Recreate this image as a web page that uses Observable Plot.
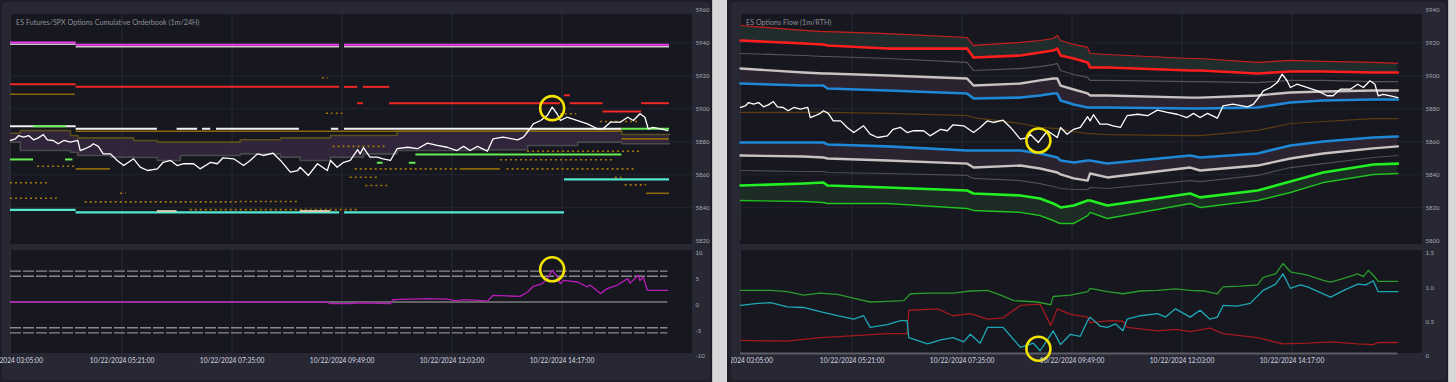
<!DOCTYPE html>
<html><head><meta charset="utf-8">
<script src="https://cdn.jsdelivr.net/npm/d3@7"></script>
<script src="https://cdn.jsdelivr.net/npm/@observablehq/plot@0.6"></script>
<style>
html,body{margin:0;padding:0;background:#1d1e27;width:1456px;height:382px;overflow:hidden;font-family:Lato,"Open Sans",sans-serif;}
.abs{position:absolute;}
</style></head><body>
<div id="root" style="position:relative;width:1456px;height:382px;"></div>
<script>
// ---------- shared time axis (minutes after 03:05) ----------
const timeTicks = [0, 136, 270, 404, 538, 672];
const timeTickLabels = ["10/22/2024 03:05:00","10/22/2024 05:21:00","10/22/2024 07:35:00","10/22/2024 09:49:00","10/22/2024 12:03:00","10/22/2024 14:17:00"];
const leftTopTicks = [5820,5840,5860,5880,5900,5920,5940,5960];
const rightTopTicks = [5800,5820,5840,5860,5880,5900,5920,5940];
const leftLowTicks = [-10,-5,0,5,10];
const rightLowTicks = [0,0.5,1,1.5];
const rightLowTickLabels = ["0","0.5","1.0","1.5"];
const leftTitle = "ES Futures/SPX Options Cumulative Orderbook (1m/24H)";
const rightTitle = "ES Options Flow (1m/RTH)";

// ---------- ES price [minute, price] ----------
const esPrice = [[0,5880.8],[6,5881.8],[10,5883.8],[16,5882.8],[22,5883.8],[28,5881.2],[34,5882.4],[40,5884.4],[45,5881.2],[52,5880.8],[58,5878.8],[65,5880.8],[73,5879.8],[82,5880.8],[85,5874.7],[91,5875.8],[97,5877.2],[101,5878.8],[107,5877.2],[113,5872.7],[122,5872.7],[130,5868.7],[138,5865.6],[150,5869.7],[158,5864.6],[167,5862.6],[179,5863.6],[186,5867.6],[195,5868.7],[203,5865.6],[211,5866.7],[223,5866.7],[231,5863.6],[244,5867.6],[252,5866.7],[259,5870.3],[272,5869.7],[284,5865.6],[292,5868.7],[301,5872.7],[308,5871.7],[320,5873.1],[329,5868.7],[341,5861.6],[350,5862.6],[353,5864.6],[363,5859.6],[374,5866.7],[386,5862.6],[390,5868.7],[398,5864.6],[406,5867.6],[414,5868.7],[423,5875.2],[426,5872.7],[430,5876.4],[438,5870.7],[447,5870.7],[454,5869.7],[463,5868.7],[471,5875.8],[484,5876.7],[496,5875.8],[508,5879.2],[520,5877.8],[532,5876.7],[544,5874.7],[552,5877.2],[560,5874.7],[569,5877.2],[581,5874.3],[588,5881.8],[600,5882.8],[618,5881.2],[625,5882.8],[633,5887.9],[637,5890.9],[646,5892.9],[654,5895.9],[660,5901.0],[666,5897.0],[670,5892.9],[678,5894.9],[691,5892.9],[703,5890.9],[715,5887.9],[722,5887.9],[731,5891.9],[743,5891.9],[752,5894.9],[759,5892.9],[767,5897.0],[773,5894.9],[777,5887.9],[783,5888.8],[792,5887.9],[801,5886.8]];

// ---------- left orderbook levels [startMin, endMin, price] ----------
const lvlMagenta = [[0,80,5940.2],[80,401,5938.8],[407,803,5938.8]];
const lvlSilver = [[0,80,5939.1],[80,401,5937.6],[407,803,5937.6]];
const lvlRed = [[0,80,5914.9],[80,401,5913.3],[407,423,5913.3],[430,462,5913.3],[423,430,5903.4],[462,670,5903.4],[682,722,5903.4],[769,803,5903.4],[675,682,5908.2],[722,769,5898.4]];
const lvlWhite = [[0,80,5889.5],[80,179,5887.9],[203,228,5887.9],[234,244,5887.9],[251,352,5887.9],[391,400,5887.9],[407,745,5887.9]];
const lvlGreen = [[28,68,5889.5],[745,803,5887.9],[0,28,5869.3],[67,76,5869.3],[447,454,5867.3],[486,494,5867.3],[494,745,5872.3]];
const lvlCyan = [[0,80,5838.8],[80,401,5837.2],[407,675,5837.2],[675,803,5857.2]];
const lvlBeige = [[179,203,5838.0],[353,390,5838.0]];
const lvlGold = [[0,79,5908.8],[80,745,5886.4],[80,122,5863.6],[548,597,5863.6],[745,803,5881.8],[775,803,5848.8]];
const lvlGoldDotted = [[33,79,5865.2],[0,45,5855.2],[0,57,5845.8],[91,280,5843.6],[280,350,5843.8],[219,423,5838.9],[393,460,5877.2],[420,548,5863.6],[414,450,5858.5],[433,462,5853.5],[670,690,5897.0],[719,767,5892.3],[630,768,5874.3],[597,735,5869.1],[605,760,5863.6],[737,745,5858.5],[749,775,5853.9],[134,141,5848.8],[385,393,5897.3],[397,405,5897.3],[380,387,5918.8]];

// ---------- left cone band ----------
const coneTimes = [0,12,73,82,122,150,179,207,280,329,353,390,430,471,560,630,691,745,803];
const coneUpper = [5885.2,5886.8,5883.8,5882.4,5882.4,5880.8,5879.8,5879.8,5881.2,5882.4,5882.4,5883.8,5883.8,5886.4,5886.4,5887.5,5887.5,5884.4,5884.4];
const coneLower = [5879.8,5874.7,5873.7,5871.7,5870.7,5870.5,5868.7,5871.7,5872.7,5870.7,5868.7,5870.7,5872.7,5874.7,5875.2,5877.8,5879.8,5878.8,5878.8];

// ---------- left lower oscillator ----------
const leftOsc = [[0,0],[384,0],[390,-0.3],[414,-0.3],[426,-0.15],[463,-0.3],[466,0.47],[508,0.66],[532,0.56],[544,0.2],[552,0.47],[569,0.33],[581,0.15],[588,1.3],[605,1.17],[621,1.1],[630,1.94],[637,3.05],[648,3.57],[654,4.54],[660,6.16],[666,4.99],[670,3.57],[674,4.21],[691,3.88],[703,2.91],[706,3.28],[719,1.63],[727,2.6],[739,3.24],[752,4.54],[755,3.67],[765,5.18],[767,4.17],[771,4.85],[776,2.27],[801,2.27]];
const leftOscBands = [6,5,-5,-6];

// ---------- right options flow bands ----------
const rbTimes = [0,77,101,106,179,276,284,341,365,381,386,390,406,423,426,447,548,560,630,670,710,771,801];
const rbRedThin = [5930.5,5927.5,5926.8,5926.8,5925.6,5923.2,5918.4,5920.2,5921.4,5922.6,5924.4,5921.4,5919.0,5917.2,5913.5,5912.9,5910.5,5910.5,5908.1,5909.3,5908.7,5908.1,5907.5];
const rbRedThick = [5921.4,5919.6,5919.0,5918.4,5916.5,5916.5,5911.1,5912.3,5914.1,5915.3,5916.5,5912.3,5910.5,5908.1,5905.0,5905.0,5903.2,5903.2,5901.4,5902.6,5902.6,5902.0,5902.0];
const rbGrayThin = [5913.5,5912.3,5911.7,5911.7,5910.5,5908.1,5903.2,5904.4,5905.6,5906.8,5907.5,5903.2,5900.8,5899.0,5897.2,5897.2,5896.5,5896.5,5895.9,5897.2,5897.2,5896.5,5896.5];
const rbGrayThick = [5904.4,5902.0,5901.4,5901.4,5900.2,5898.4,5894.1,5895.3,5897.2,5898.4,5898.4,5894.1,5891.7,5889.3,5888.1,5888.1,5886.8,5886.8,5888.1,5889.9,5890.5,5891.1,5891.1];
const rbBlueUp = [5895.3,5894.1,5894.1,5892.3,5891.1,5889.3,5886.2,5886.8,5888.1,5889.3,5889.3,5885.0,5882.6,5880.8,5880.8,5880.8,5880.2,5880.2,5880.8,5883.8,5885.0,5885.6,5885.6];
const rbBrown = [5877.8,5877.8,5877.8,5877.8,5877.2,5875.9,5874.7,5871.1,5868.7,5868.1,5868.1,5867.5,5866.2,5865.0,5865.0,5864.4,5863.8,5863.8,5866.9,5871.1,5872.3,5874.1,5874.1];
const rbBlueLo = [5859.6,5859.6,5859.6,5858.4,5857.2,5854.7,5854.7,5854.7,5852.9,5851.1,5850.5,5848.7,5847.5,5848.7,5848.7,5846.8,5851.7,5850.5,5852.9,5857.8,5860.2,5862.6,5863.2];
const rbGrayLo = [5851.7,5851.1,5850.5,5849.9,5848.7,5846.8,5844.4,5845.6,5843.8,5842.0,5841.4,5840.2,5837.8,5836.5,5840.8,5838.4,5844.4,5842.6,5845.6,5849.9,5852.9,5856.0,5857.2];
const rbDarkGrayLo = [5842.6,5842.0,5842.0,5841.4,5840.8,5839.6,5837.8,5836.5,5834.7,5832.9,5832.3,5831.7,5831.1,5831.1,5832.3,5831.7,5836.5,5835.9,5839.6,5844.4,5846.8,5850.5,5851.7];
const rbGreenThick = [5833.5,5834.7,5835.3,5833.5,5832.3,5830.5,5828.7,5827.5,5825.6,5822.6,5821.4,5820.2,5821.4,5824.4,5824.4,5821.4,5828.7,5826.3,5830.5,5835.9,5841.4,5846.2,5846.8];
const rbGreenThin = [5824.4,5823.8,5823.2,5822.6,5822.6,5819.6,5818.4,5817.2,5815.3,5812.3,5811.1,5810.5,5810.5,5815.3,5817.2,5813.5,5822.6,5820.2,5824.4,5829.3,5835.3,5840.2,5840.8];

// ---------- right lower ratios ----------
const ratioGreen = [[0,0.92],[37,0.92],[57,0.9],[77,0.85],[97,0.88],[118,0.86],[140,0.8],[158,0.75],[179,0.76],[199,0.77],[207,0.87],[231,0.88],[259,0.88],[280,0.91],[301,0.92],[317,0.85],[333,0.77],[362,0.75],[378,0.71],[381,0.83],[402,0.85],[423,0.9],[426,0.95],[447,0.9],[466,0.87],[487,0.91],[508,0.92],[530,0.94],[548,0.92],[566,0.91],[581,0.87],[588,0.97],[609,0.98],[630,1.0],[637,1.11],[652,1.16],[661,1.31],[670,1.19],[691,1.14],[711,1.06],[719,1.04],[734,1.09],[752,1.16],[759,1.12],[765,1.21],[771,1.14],[777,1.05],[801,1.05]];
const ratioCyan = [[0,0.70],[21,0.73],[37,0.74],[57,0.68],[77,0.67],[97,0.61],[118,0.55],[138,0.5],[150,0.55],[158,0.38],[179,0.42],[195,0.48],[203,0.48],[205,0.23],[228,0.14],[244,0.2],[259,0.23],[272,0.17],[280,0.28],[292,0.15],[301,0.38],[320,0.38],[341,0.09],[357,0.15],[365,0.04],[374,0.2],[381,0.33],[390,0.13],[402,0.28],[414,0.25],[423,0.48],[426,0.53],[438,0.4],[447,0.38],[457,0.43],[466,0.33],[471,0.5],[487,0.55],[508,0.58],[518,0.53],[530,0.65],[548,0.53],[560,0.63],[572,0.5],[581,0.53],[588,0.7],[605,0.69],[621,0.73],[637,0.92],[652,1.01],[661,1.16],[670,0.95],[682,1.0],[691,0.97],[719,0.82],[737,0.93],[752,1.01],[762,1.0],[771,1.06],[777,0.9],[801,0.9]];
const ratioRed = [[0,0.19],[57,0.18],[97,0.23],[140,0.26],[179,0.29],[203,0.29],[205,0.63],[240,0.65],[259,0.55],[280,0.58],[301,0.5],[320,0.52],[341,0.7],[365,0.72],[378,0.41],[386,0.65],[402,0.57],[423,0.53],[426,0.45],[451,0.48],[466,0.47],[471,0.38],[508,0.33],[530,0.35],[548,0.32],[572,0.37],[588,0.29],[630,0.23],[661,0.14],[691,0.15],[719,0.17],[752,0.14],[771,0.13],[777,0.16],[801,0.16]];

// ---------- yellow highlights [minute, value] ----------
const hlLeftTop = [[660,5900.4]];
const hlLeftLow = [[660,6.35]];
const hlRightTop = [[363,5860.8]];
const hlRightLow = [[363,0.07]];

// ================= rendering =================
const FONT = "Lato, 'Open Sans', sans-serif";
const X_DOMAIN = [0, 831];
const PW = 682;
const root = document.getElementById("root");

function div(parent, x, y, w, h, css) {
  const d = document.createElement("div");
  d.className = "abs";
  d.style.cssText = `left:${x}px;top:${y}px;width:${w}px;height:${h}px;` + (css || "");
  parent.appendChild(d);
  return d;
}
function place(parent, node, x, y) {
  node.style.position = "absolute";
  node.style.left = x + "px";
  node.style.top = y + "px";
  parent.appendChild(node);
}
const seg = (arr, o) => Plot.ruleY(arr, {y: d => d[2], x1: d => d[0], x2: d => d[1], ...o});
const ln = (arr, o) => Plot.line(arr, {x: d => d[0], y: d => d[1], ...o});
const hl = (arr) => Plot.dot(arr, {x: d => d[0], y: d => d[1], r: 12, stroke: "#f4e400", strokeWidth: 2.6, fill: "none"});
const grid = (ticks) => [
  Plot.gridX(timeTicks, {stroke: "#2a2b36", strokeOpacity: 1, strokeWidth: 1}),
  Plot.gridY(ticks, {stroke: "#24252f", strokeOpacity: 1, strokeWidth: 1})
];

function topPlot(yDomain, ticks, gridTicks, marks) {
  return Plot.plot({
    width: PW + 30, height: 244,
    marginLeft: 0, marginRight: 30, marginTop: 9.3, marginBottom: 3.7,
    x: {domain: X_DOMAIN, axis: null},
    y: {domain: yDomain, axis: null},
    style: {background: "transparent", overflow: "visible", fontFamily: FONT},
    marks: [
      ...grid(gridTicks),
      ...marks,
      Plot.axisY(ticks, {anchor: "right", tickSize: 0, tickPadding: 3, fill: "#a8a8b2", fontSize: 6, tickFormat: d => String(d)})
    ]
  });
}
function lowPlot(yDomain, ticks, fmt, marks) {
  return Plot.plot({
    width: PW + 30, height: 126,
    marginLeft: 0, marginRight: 30, marginTop: 0, marginBottom: 23,
    x: {domain: X_DOMAIN, axis: null},
    y: {domain: yDomain, axis: null},
    style: {background: "transparent", overflow: "visible", fontFamily: FONT},
    marks: [
      Plot.gridX(timeTicks, {stroke: "#2a2b36", strokeOpacity: 1}),
      ...marks,
      Plot.axisY(ticks, {anchor: "right", tickSize: 0, tickPadding: 3, dy: 3, fill: "#a8a8b2", fontSize: 6, tickFormat: fmt}),
      Plot.axisX(timeTicks, {anchor: "bottom", tickSize: 0, tickPadding: 5, fill: "#d8d8e0", fontSize: 6.6,
        tickFormat: d => timeTickLabels[timeTicks.indexOf(d)]})
    ]
  });
}

// ---- left panel ----
const L = div(root, 0, 0, 712, 382, "overflow:hidden;");
div(L, 2, 2, 708, 378, "background:#272834;border-radius:4px;");
div(L, 10, 14, PW, 230, "background:#16171f;");
div(L, 10, 250, PW, 103, "background:#16171f;");
div(L, 16, 18, 400, 10, `color:#8e8e9a;font-size:7.2px;line-height:10px;font-family:${FONT};white-space:nowrap;`).textContent = leftTitle;

const coneRows = coneTimes.map((t, i) => ({t, up: coneUpper[i], lo: coneLower[i]}));
place(L, topPlot([5820, 5960], leftTopTicks, [5840,5860,5880,5900,5920,5940], [
  Plot.areaY(coneRows, {x: "t", y1: "up", y2: "lo", curve: "step-after", fill: "#35283f", fillOpacity: 0.85}),
  Plot.line(coneRows, {x: "t", y: "up", curve: "step-after", stroke: "#5a4e1c", strokeWidth: 1.6}),
  Plot.line(coneRows, {x: "t", y: "lo", curve: "step-after", stroke: "#4a4a4c", strokeWidth: 1.6}),
  seg(lvlGoldDotted, {stroke: "#a9780a", strokeWidth: 1.6, strokeDasharray: "2,3"}),
  seg(lvlGold, {stroke: "#8a680c", strokeWidth: 1.6}),
  seg(lvlSilver, {stroke: "#c8c8c8", strokeWidth: 1.5}),
  seg(lvlMagenta, {stroke: "#f03cf0", strokeWidth: 2}),
  seg(lvlRed, {stroke: "#f02828", strokeWidth: 2}),
  seg(lvlCyan, {stroke: "#52e8d2", strokeWidth: 2.2}),
  seg(lvlBeige, {stroke: "#d9d0b0", strokeWidth: 2}),
  seg(lvlWhite, {stroke: "#f2f2f2", strokeWidth: 2}),
  seg(lvlGreen, {stroke: "#66ee55", strokeWidth: 2}),
  ln(esPrice, {stroke: "#ffffff", strokeWidth: 1.3}),
  hl(hlLeftTop)
]), 10, 0);

place(L, lowPlot([-10, 10], leftLowTicks, d => String(d), [
  Plot.ruleY(leftOscBands, {x1: 0, x2: 801, stroke: "#8a8a8e", strokeWidth: 1.3, strokeDasharray: "11,2"}),
  Plot.ruleY([0], {x1: 0, x2: 801, stroke: "#7c7c80", strokeWidth: 1.4}),
  ln(leftOsc, {stroke: "#b81cb8", strokeWidth: 1.3}),
  hl(hlLeftLow)
]), 10, 250);

// scroll strips
div(root, 712, 0, 15, 382, "background:#d8d8da;border-left:1px solid #bdbdc0;box-sizing:border-box;");
div(root, 1448, 0, 8, 382, "background:#d8d8da;border-left:1px solid #bdbdc0;box-sizing:border-box;");

// ---- right panel ----
const R = div(root, 731, 0, 717, 382, "overflow:hidden;");
div(R, 0, 2, 715, 378, "background:#272834;border-radius:4px;");
div(R, 9, 14, PW, 230, "background:#16171f;");
div(R, 9, 250, PW, 103, "background:#16171f;");
div(R, 15, 18, 300, 10, `color:#8e8e9a;font-size:7.2px;line-height:10px;font-family:${FONT};white-space:nowrap;`).textContent = rightTitle;

const rbRows = rbTimes.map((t, i) => ({t, redThin: rbRedThin[i], redThick: rbRedThick[i], grayThin: rbGrayThin[i],
  grayThick: rbGrayThick[i], blueUp: rbBlueUp[i], brown: rbBrown[i], blueLo: rbBlueLo[i], grayLo: rbGrayLo[i],
  darkGrayLo: rbDarkGrayLo[i], greenThick: rbGreenThick[i], greenThin: rbGreenThin[i]}));
const rl = (key, stroke, w) => Plot.line(rbRows, {x: "t", y: key, stroke, strokeWidth: w});
place(R, topPlot([5800, 5940], rightTopTicks, [5820,5840,5860,5880,5900,5920], [
  Plot.areaY(rbRows, {x: "t", y1: "redThin", y2: "redThick", fill: "#202d2c"}),
  Plot.areaY(rbRows, {x: "t", y1: "grayThick", y2: "blueUp", fill: "#2c2331"}),
  Plot.areaY(rbRows, {x: "t", y1: "blueLo", y2: "grayLo", fill: "#2c2331"}),
  Plot.areaY(rbRows, {x: "t", y1: "greenThick", y2: "greenThin", fill: "#1d2c24"}),
  rl("redThin", "#c81e1e", 1.2),
  rl("grayThin", "#55555a", 1.2),
  rl("brown", "#5c3d12", 1.2),
  rl("darkGrayLo", "#4e4e54", 1.2),
  rl("greenThin", "#1fc21f", 1.4),
  rl("redThick", "#ff1e1e", 2.6),
  rl("grayThick", "#c9c2c2", 2.4),
  rl("blueUp", "#1e88d6", 2.6),
  rl("blueLo", "#1e88d6", 2.6),
  rl("grayLo", "#c9c2c2", 2.4),
  rl("greenThick", "#22f022", 2.6),
  ln(esPrice, {stroke: "#ffffff", strokeWidth: 1.3}),
  hl(hlRightTop)
]), 9, 0);

place(R, lowPlot([0, 1.5], rightLowTicks, d => rightLowTickLabels[rightLowTicks.indexOf(d)], [
  Plot.ruleY([0], {x1: 0, x2: 801, stroke: "#5c5c66", strokeWidth: 2}),
  ln(ratioRed, {stroke: "#a3191c", strokeWidth: 1.3}),
  ln(ratioGreen, {stroke: "#2b9b2b", strokeWidth: 1.3}),
  ln(ratioCyan, {stroke: "#1fa7b6", strokeWidth: 1.3}),
  hl(hlRightLow)
]), 9, 250);
</script>
</body></html>
